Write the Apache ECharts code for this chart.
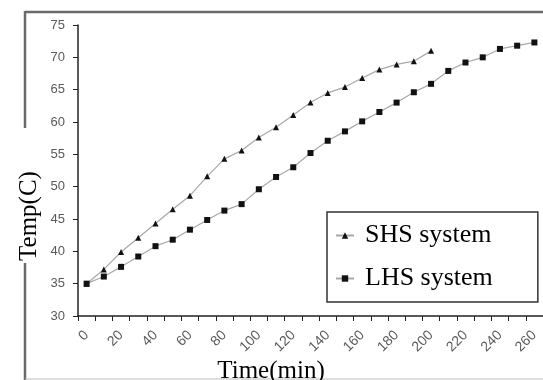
<!DOCTYPE html>
<html>
<head>
<meta charset="utf-8">
<script src="https://cdn.jsdelivr.net/npm/echarts@6/dist/echarts.min.js"></script>
<style>
  html, body { margin: 0; padding: 0; background: #fff; }
  #chart { width: 543px; height: 380px; }
</style>
</head>
<body>
<div id="chart"></div>
<script>
// time categories (min), every 10 min
const times = ['0', '10', '20', '30', '40', '50', '60', '70', '80', '90', '100', '110', '120', '130',
  '140', '150', '160', '170', '180', '190', '200', '210', '220', '230', '240', '250', '260'];
// temperatures (C)
const shsTemp = [35, 37.2, 39.9, 42.1, 44.3, 46.5, 48.6, 51.6, 54.3, 55.6, 57.6, 59.2, 61.1, 63.0,
  64.5, 65.4, 66.8, 68.1, 68.9, 69.4, 71.0];
const lhsTemp = [35, 36.1, 37.6, 39.2, 40.8, 41.8, 43.35, 44.85, 46.3, 47.3, 49.6, 51.5, 53.0, 55.2,
  57.1, 58.55, 60.1, 61.55, 63.0, 64.6, 65.9, 67.9, 69.2, 70.0, 71.3, 71.8, 72.3];
const seriesNames = ['SHS system', 'LHS system'];

const serif = '"Liberation Serif", "DejaVu Serif", serif';
const sans = '"Liberation Sans", Arial, sans-serif';

const chart = echarts.init(document.getElementById('chart'));
const frame = { stroke: '#6a6a6a', lineWidth: 2.5 };

chart.setOption({
  animation: false,
  backgroundColor: '#fff',
  grid: { left: 78, top: 25, width: 467, bottom: 64 },
  legend: {
    orient: 'vertical',
    left: 327,
    top: 212,
    padding: [8, 45, 8, 8],
    itemGap: 12,
    itemWidth: 18,
    itemHeight: 8,
    borderColor: '#333',
    borderWidth: 1.5,
    data: seriesNames,
    textStyle: { fontFamily: serif, fontSize: 26, color: '#000', lineHeight: 31, padding: [0, 0, 0, 6] }
  },
  xAxis: {
    type: 'category',
    data: times,
    boundaryGap: true,
    axisLine: { lineStyle: { color: '#222', width: 1.5 } },
    axisTick: { show: true, interval: 0, length: 5, lineStyle: { color: '#222' } },
    axisLabel: { interval: 1, rotate: 45, margin: 17, fontFamily: sans, fontSize: 14, color: '#5a5a5a' },
    splitLine: { show: false }
  },
  yAxis: {
    type: 'value',
    min: 30,
    max: 75,
    interval: 5,
    axisLine: { show: true, lineStyle: { color: '#222', width: 1.5 } },
    axisTick: { show: true, length: 5, lineStyle: { color: '#222' } },
    axisLabel: { margin: 13, fontFamily: sans, fontSize: 13, color: '#5a5a5a' },
    splitLine: { show: false }
  },
  series: [
    {
      name: seriesNames[0],
      type: 'line',
      data: shsTemp,
      symbol: 'triangle',
      symbolSize: 6,
      showAllSymbol: true,
      itemStyle: { color: '#111' },
      lineStyle: { color: '#a8a8a8', width: 1.2 }
    },
    {
      name: seriesNames[1],
      type: 'line',
      data: lhsTemp,
      symbol: 'rect',
      symbolSize: 6,
      showAllSymbol: true,
      itemStyle: { color: '#111' },
      lineStyle: { color: '#a8a8a8', width: 1.2 }
    }
  ],
  graphic: [
    { type: 'line', shape: { x1: 25, y1: 12, x2: 543, y2: 12 }, style: frame },
    { type: 'line', shape: { x1: 25, y1: 11, x2: 25, y2: 128 }, style: frame },
    { type: 'line', shape: { x1: 25, y1: 263, x2: 25, y2: 380 }, style: frame },
    { type: 'line', shape: { x1: 25, y1: 379, x2: 543, y2: 379 }, style: { stroke: '#bbb', lineWidth: 1 } },
    {
      type: 'text', x: 29, y: 216, rotation: Math.PI / 2,
      style: { text: 'Temp(C)', font: '25px ' + serif, fill: '#000', align: 'center', verticalAlign: 'middle' }
    },
    {
      type: 'text', x: 271, y: 371,
      style: { text: 'Time(min)', font: '25px ' + serif, fill: '#000', align: 'center', verticalAlign: 'middle' }
    }
  ]
});
</script>
</body>
</html>
